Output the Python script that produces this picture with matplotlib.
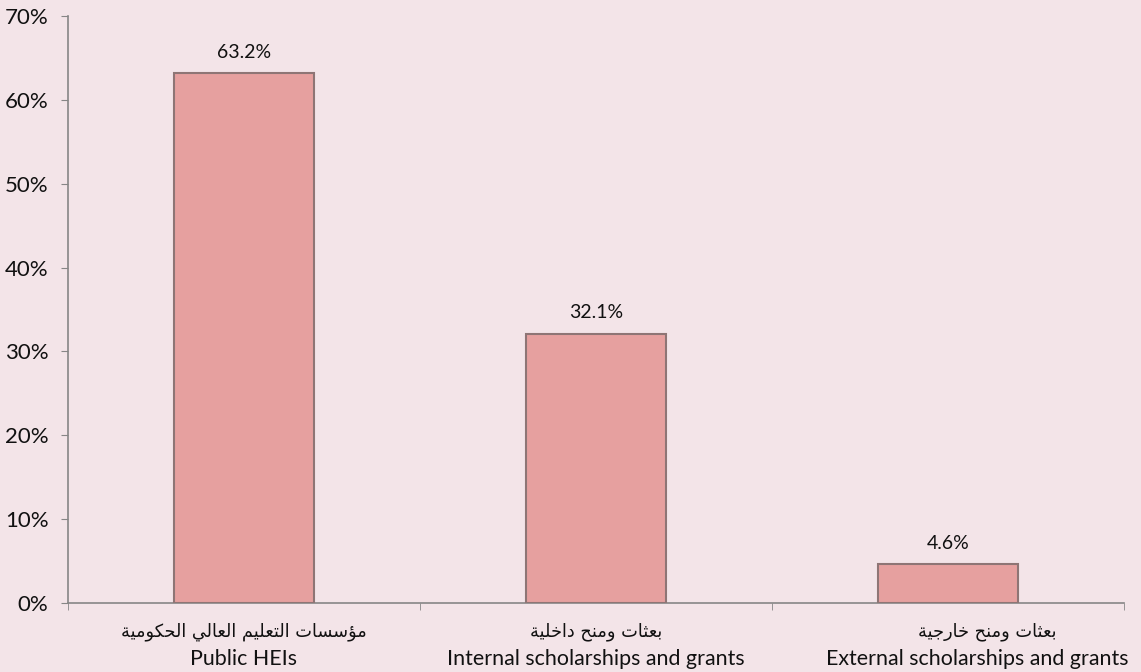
import matplotlib
matplotlib.use("Agg")
import matplotlib.pyplot as plt
from matplotlib.ticker import FuncFormatter, FixedLocator

# ---- data ----
categories_ar = ["مؤسسات التعليم العالي الحكومية", "بعثات ومنح داخلية", "بعثات ومنح خارجية"]
categories_en = ["Public HEIs", "Internal scholarships and grants", "External scholarships and grants"]
values = [63.2, 32.1, 4.6]
y_ticks = [0, 10, 20, 30, 40, 50, 60, 70]

# ---- minimal Arabic shaping (presentation forms) ----
FORMS = {
    'ا': ('\uFE8D', '\uFE8E', None, None),
    'ؤ': ('\uFE85', '\uFE86', None, None),
    'ب': ('\uFE8F', '\uFE90', '\uFE91', '\uFE92'),
    'ة': ('\uFE93', '\uFE94', None, None),
    'ت': ('\uFE95', '\uFE96', '\uFE97', '\uFE98'),
    'ث': ('\uFE99', '\uFE9A', '\uFE9B', '\uFE9C'),
    'ج': ('\uFE9D', '\uFE9E', '\uFE9F', '\uFEA0'),
    'ح': ('\uFEA1', '\uFEA2', '\uFEA3', '\uFEA4'),
    'خ': ('\uFEA5', '\uFEA6', '\uFEA7', '\uFEA8'),
    'د': ('\uFEA9', '\uFEAA', None, None),
    'ر': ('\uFEAD', '\uFEAE', None, None),
    'س': ('\uFEB1', '\uFEB2', '\uFEB3', '\uFEB4'),
    'ع': ('\uFEC9', '\uFECA', '\uFECB', '\uFECC'),
    'ك': ('\uFED9', '\uFEDA', '\uFEDB', '\uFEDC'),
    'ل': ('\uFEDD', '\uFEDE', '\uFEDF', '\uFEE0'),
    'م': ('\uFEE1', '\uFEE2', '\uFEE3', '\uFEE4'),
    'ن': ('\uFEE5', '\uFEE6', '\uFEE7', '\uFEE8'),
    'و': ('\uFEED', '\uFEEE', None, None),
    'ي': ('\uFEF1', '\uFEF2', '\uFEF3', '\uFEF4'),
}


def shape(text):
    out = []
    n = len(text)
    for i, ch in enumerate(text):
        if ch not in FORMS:
            out.append(ch)
            continue
        iso, fin, ini, med = FORMS[ch]
        prev = text[i - 1] if i > 0 else None
        nxt = text[i + 1] if i < n - 1 else None
        join_prev = prev in FORMS and FORMS[prev][2] is not None
        join_next = nxt in FORMS and ini is not None
        if join_prev and join_next:
            out.append(med)
        elif join_prev:
            out.append(fin)
        elif join_next:
            out.append(ini)
        else:
            out.append(iso)
    return ''.join(reversed(out))


BG = '#F3E4E8'
BAR = '#E6A09F'
EDGE = '#8E7575'
AXIS = '#868686'
TXT = '#111111'
FONT = ['Lato', 'DejaVu Sans']

plt.rcParams['font.family'] = FONT

fig = plt.figure(figsize=(11.41, 6.72), dpi=100, facecolor=BG)
ax = fig.add_axes([0.0596, 0.1027, 0.9254, 0.8735], facecolor=BG)

x = list(range(len(values)))
bars = ax.bar(x, values, width=0.4, color=BAR, edgecolor=EDGE, linewidth=1.5, zorder=3)

for xi, v in zip(x, values):
    ax.annotate(f"{v:.1f}%", (xi, v), xytext=(0, 15), textcoords='offset points',
                ha='center', va='center', fontsize=14, color=TXT, family=FONT)

ax.set_xlim(-0.5, len(values) - 0.5)
ax.set_ylim(0, 70)
ax.set_yticks(y_ticks)
ax.yaxis.set_major_formatter(FuncFormatter(lambda v, p: f"{int(v)}%"))
ax.tick_params(axis='y', direction='out', length=5, color=AXIS, labelsize=16,
               labelcolor=TXT, pad=9)

ax.set_xticks(x)
ax.set_xticklabels([""] * len(x))
ax.tick_params(axis='x', which='major', length=0)
ax.xaxis.set_minor_locator(FixedLocator([i - 0.5 for i in range(len(values) + 1)]))
ax.tick_params(axis='x', which='minor', direction='out', length=5, color=AXIS)

# the last label is nudged right in the original (it runs up to the figure edge)
nudge_ar = [0, 0, 28]
nudge_en = [0, 0, 21]
for xi, ar, en, na, ne in zip(x, categories_ar, categories_en, nudge_ar, nudge_en):
    ax.annotate(shape(ar), (xi, 0), xytext=(na, -24), textcoords='offset points',
                ha='center', va='baseline', fontsize=12.8, color=TXT,
                family=['DejaVu Sans'], annotation_clip=False)
    ax.annotate(en, (xi, 0), xytext=(ne, -44.5), textcoords='offset points',
                ha='center', va='baseline', fontsize=15.4, color=TXT,
                family=FONT, annotation_clip=False)

for s in ['top', 'right']:
    ax.spines[s].set_visible(False)
for s in ['left', 'bottom']:
    ax.spines[s].set_color(AXIS)
    ax.spines[s].set_linewidth(1.2)

fig.savefig('out.png', dpi=100, facecolor=BG)
